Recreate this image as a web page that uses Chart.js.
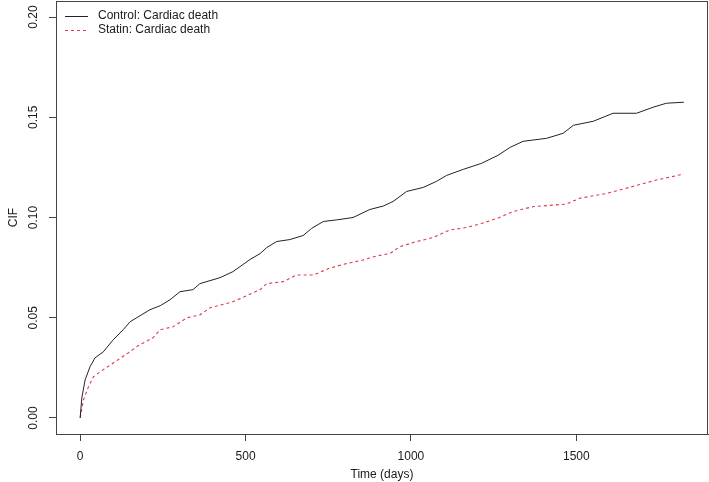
<!DOCTYPE html>
<html>
<head>
<meta charset="utf-8">
<script src="https://cdn.jsdelivr.net/npm/chart.js@4.4.1/dist/chart.umd.min.js"></script>
<style>
  html, body { margin: 0; padding: 0; background: #ffffff; }
  #wrap { width: 709px; height: 482px; }
</style>
</head>
<body>
<div id="wrap"><canvas id="c" width="709" height="482"></canvas></div>
<script>
// ---- data ----
const controlDays = [0, 5, 15, 30, 45, 70, 100, 130, 151, 181, 211, 242, 272, 302, 341, 362, 423, 462, 513, 544, 564, 594, 634, 674, 700, 735, 775, 825, 876, 916, 946, 987, 1037, 1077, 1108, 1158, 1213, 1263, 1300, 1339, 1410, 1460, 1491, 1551, 1611, 1682, 1732, 1772, 1825];
const controlCIF = [0, 0.010, 0.019, 0.0256, 0.030, 0.033, 0.039, 0.044, 0.048, 0.051, 0.054, 0.056, 0.059, 0.063, 0.064, 0.067, 0.070, 0.073, 0.079, 0.082, 0.085, 0.088, 0.089, 0.091, 0.0946, 0.098, 0.0988, 0.100, 0.104, 0.1057, 0.108, 0.113, 0.115, 0.118, 0.121, 0.124, 0.127, 0.131, 0.135, 0.138, 0.1395, 0.142, 0.146, 0.148, 0.152, 0.152, 0.155, 0.157, 0.1575];

const statinDays = [0, 10, 25, 40, 60, 100, 150, 175, 220, 242, 281, 323, 362, 393, 462, 504, 544, 564, 614, 654, 705, 755, 805, 855, 896, 936, 967, 1017, 1067, 1118, 1168, 1213, 1263, 1309, 1369, 1470, 1510, 1591, 1631, 1682, 1742, 1825];
const statinCIF = [0, 0.009, 0.0155, 0.0205, 0.023, 0.0274, 0.033, 0.036, 0.040, 0.044, 0.0455, 0.050, 0.0514, 0.055, 0.058, 0.061, 0.064, 0.067, 0.068, 0.0713, 0.0713, 0.0748, 0.077, 0.0788, 0.0808, 0.082, 0.0855, 0.088, 0.090, 0.0938, 0.095, 0.097, 0.0997, 0.103, 0.1054, 0.1067, 0.1096, 0.112, 0.1137, 0.116, 0.1187, 0.1217];

const seriesNames = ["Control: Cardiac death", "Statin: Cardiac death"];
const xTicks = [0, 500, 1000, 1500];
const yTicks = [0, 0.05, 0.10, 0.15, 0.20];
const xTitle = "Time (days)";
const yTitle = "CIF";

// ---- styling ----
const FONT = "'Liberation Sans', Arial, Helvetica, sans-serif";
const AXIS_COLOR = "#444444";
const TEXT_COLOR = "#1a1a1a";
const COLORS = ["#222222", "#e0384e"];
const DASHES = [[], [3, 3]];

function toPoints(xs, ys) { return xs.map((x, i) => ({ x: x, y: ys[i] })); }

function zeroPad(s) { s.paddingTop = 0; s.paddingBottom = 0; s.paddingLeft = 0; s.paddingRight = 0; }

const boxPlugin = {
  id: 'boxAndLegend',
  afterDraw(chart) {
    const { ctx, chartArea: a } = chart;
    ctx.save();
    ctx.strokeStyle = AXIS_COLOR;
    ctx.lineWidth = 1;
    ctx.strokeRect(Math.round(a.left) + 0.5, Math.round(a.top) + 0.5,
                   Math.round(a.right - a.left) - 1, Math.round(a.bottom - a.top));
    // legend (top-left inside the plot box)
    const lx0 = a.left + 9, lx1 = a.left + 32, tx = a.left + 42;
    const rows = [a.top + 15, a.top + 29];
    ctx.font = "12px " + FONT;
    ctx.textBaseline = 'middle';
    ctx.textAlign = 'left';
    seriesNames.forEach((name, i) => {
      ctx.beginPath();
      ctx.setLineDash(DASHES[i]);
      ctx.strokeStyle = COLORS[i];
      ctx.lineWidth = 1;
      ctx.moveTo(lx0, rows[i] + 0.5);
      ctx.lineTo(lx1, rows[i] + 0.5);
      ctx.stroke();
      ctx.setLineDash([]);
      ctx.fillStyle = TEXT_COLOR;
      ctx.fillText(name, tx, rows[i]);
    });
    ctx.restore();
  }
};

new Chart(document.getElementById('c'), {
  type: 'line',
  data: {
    datasets: [
      { label: seriesNames[0], data: toPoints(controlDays, controlCIF),
        borderColor: COLORS[0], borderWidth: 1, borderDash: DASHES[0], pointRadius: 0, tension: 0, fill: false },
      { label: seriesNames[1], data: toPoints(statinDays, statinCIF),
        borderColor: COLORS[1], borderWidth: 1.1, borderDash: DASHES[1], pointRadius: 0, tension: 0, fill: false }
    ]
  },
  options: {
    responsive: false,
    animation: false,
    devicePixelRatio: 1,
    layout: { padding: { top: 1, right: 1, left: 0, bottom: 0 } },
    plugins: { legend: { display: false }, tooltip: { enabled: false } },
    scales: {
      x: {
        type: 'linear',
        min: -73, max: 1898,
        afterBuildTicks: (s) => { s.ticks = xTicks.map(v => ({ value: v })); },
        afterFit: (s) => { s.height = 48; zeroPad(s); },
        grid: { display: true, drawOnChartArea: false, drawTicks: true, tickLength: 7, color: AXIS_COLOR },
        border: { display: true, color: AXIS_COLOR },
        ticks: { padding: 8, color: TEXT_COLOR, font: { family: FONT, size: 12 }, maxRotation: 0, minRotation: 0,
                 callback: (v) => String(v) },
        title: { display: true, text: xTitle, color: TEXT_COLOR, font: { family: FONT, size: 12 }, padding: { top: 0, bottom: 0 } }
      },
      y: {
        type: 'linear',
        min: -0.008, max: 0.208,
        afterBuildTicks: (s) => { s.ticks = yTicks.map(v => ({ value: v })); },
        afterFit: (s) => { s.width = 56; zeroPad(s); },
        grid: { display: true, drawOnChartArea: false, drawTicks: true, tickLength: 7, color: AXIS_COLOR },
        border: { display: true, color: AXIS_COLOR },
        ticks: { padding: 4, crossAlign: 'center', minRotation: 90, maxRotation: 90, color: TEXT_COLOR,
                 font: { family: FONT, size: 12 }, callback: (v) => Number(v).toFixed(2) },
        title: { display: true, text: yTitle, color: TEXT_COLOR, font: { family: FONT, size: 12 }, padding: { top: 6, bottom: 0 } }
      }
    }
  },
  plugins: [boxPlugin]
});
</script>
</body>
</html>
